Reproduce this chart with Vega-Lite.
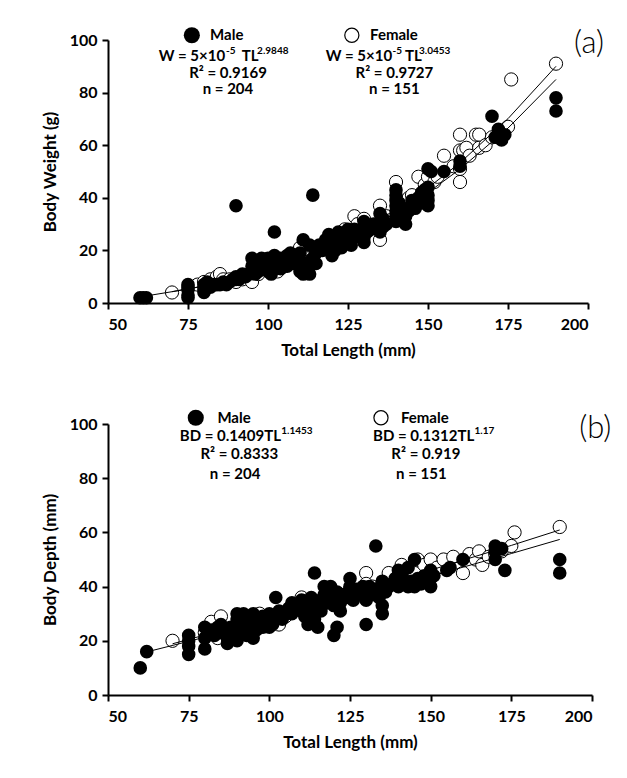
{
"$schema":"https://vega.github.io/schema/vega-lite/v6.json",
"background":"white",
"padding":{"left":41,"top":25,"right":4,"bottom":4},
"spacing":50,
"config":{
 "view":{"stroke":null},
 "font":"Lato",
 "axis":{"grid":false,"domainColor":"black","domainWidth":2,"tickColor":"black","tickWidth":2,"tickSize":6,"labelFont":"Lato","labelFontSize":16,"labelFontWeight":"bold","labelColor":"black","labelPadding":5,"titleFont":"Lato","titleFontSize":17,"titleFontWeight":"bold","titleColor":"black"},
 "axisX":{"titlePadding":10,"labelPadding":7},
 "axisY":{"titlePadding":10}
},
"datasets":{
 "a_m":[{"tl":60,"val":2},{"tl":61,"val":2},{"tl":62,"val":2},{"tl":75,"val":2},{"tl":75,"val":3},{"tl":75,"val":5},{"tl":75,"val":6},{"tl":75,"val":7},{"tl":80,"val":4},{"tl":80,"val":5},{"tl":80,"val":6},{"tl":80,"val":7},{"tl":81,"val":8},{"tl":82,"val":6},{"tl":83,"val":7},{"tl":84,"val":7},{"tl":85,"val":7},{"tl":86,"val":8},{"tl":87,"val":7},{"tl":88,"val":8},{"tl":89,"val":9},{"tl":90,"val":9},{"tl":90,"val":10},{"tl":91,"val":9},{"tl":92,"val":10},{"tl":92,"val":11},{"tl":93,"val":10},{"tl":94,"val":11},{"tl":90,"val":37},{"tl":95,"val":12},{"tl":95,"val":14},{"tl":95,"val":17},{"tl":96,"val":13},{"tl":96,"val":11},{"tl":96,"val":16},{"tl":97,"val":15},{"tl":97,"val":12},{"tl":98,"val":14},{"tl":98,"val":17},{"tl":99,"val":13},{"tl":99,"val":16},{"tl":100,"val":12},{"tl":100,"val":14},{"tl":100,"val":17},{"tl":101,"val":11},{"tl":101,"val":15},{"tl":102,"val":18},{"tl":102,"val":13},{"tl":103,"val":14},{"tl":103,"val":16},{"tl":104,"val":13},{"tl":104,"val":17},{"tl":105,"val":15},{"tl":106,"val":14},{"tl":106,"val":18},{"tl":107,"val":19},{"tl":107,"val":16},{"tl":108,"val":15},{"tl":108,"val":18},{"tl":109,"val":17},{"tl":110,"val":14},{"tl":110,"val":12},{"tl":110,"val":16},{"tl":110,"val":19},{"tl":111,"val":11},{"tl":111,"val":13},{"tl":112,"val":12},{"tl":112,"val":15},{"tl":113,"val":11},{"tl":113,"val":14},{"tl":114,"val":17},{"tl":115,"val":15},{"tl":115,"val":19},{"tl":102,"val":27},{"tl":114,"val":41},{"tl":111,"val":24},{"tl":113,"val":22},{"tl":116,"val":22},{"tl":117,"val":20},{"tl":118,"val":24},{"tl":118,"val":21},{"tl":119,"val":26},{"tl":120,"val":18},{"tl":120,"val":22},{"tl":120,"val":25},{"tl":121,"val":20},{"tl":122,"val":24},{"tl":122,"val":27},{"tl":123,"val":21},{"tl":123,"val":25},{"tl":124,"val":23},{"tl":125,"val":27},{"tl":125,"val":28},{"tl":126,"val":24},{"tl":126,"val":22},{"tl":127,"val":25},{"tl":127,"val":28},{"tl":128,"val":26},{"tl":129,"val":27},{"tl":130,"val":23},{"tl":130,"val":25},{"tl":130,"val":29},{"tl":130,"val":31},{"tl":131,"val":27},{"tl":132,"val":28},{"tl":133,"val":30},{"tl":134,"val":29},{"tl":135,"val":27},{"tl":135,"val":31},{"tl":135,"val":34},{"tl":136,"val":29},{"tl":136,"val":32},{"tl":137,"val":30},{"tl":140,"val":31},{"tl":140,"val":33},{"tl":140,"val":35},{"tl":140,"val":37},{"tl":140,"val":39},{"tl":140,"val":41},{"tl":140,"val":43},{"tl":141,"val":34},{"tl":141,"val":38},{"tl":142,"val":36},{"tl":143,"val":30},{"tl":143,"val":33},{"tl":144,"val":35},{"tl":145,"val":37},{"tl":145,"val":39},{"tl":146,"val":36},{"tl":147,"val":40},{"tl":148,"val":42},{"tl":148,"val":38},{"tl":149,"val":43},{"tl":150,"val":37},{"tl":150,"val":39},{"tl":150,"val":41},{"tl":150,"val":44},{"tl":150,"val":51},{"tl":151,"val":50},{"tl":155,"val":50},{"tl":160,"val":54},{"tl":160,"val":52},{"tl":170,"val":71},{"tl":171,"val":63},{"tl":172,"val":66},{"tl":173,"val":62},{"tl":174,"val":64},{"tl":190,"val":78},{"tl":190,"val":73}],
 "a_f":[{"tl":70,"val":4},{"tl":78,"val":7},{"tl":80,"val":8},{"tl":82,"val":9},{"tl":84,"val":10},{"tl":85,"val":11},{"tl":86,"val":9},{"tl":88,"val":9},{"tl":90,"val":8},{"tl":92,"val":9},{"tl":95,"val":8},{"tl":97,"val":11},{"tl":100,"val":13},{"tl":103,"val":12},{"tl":105,"val":14},{"tl":108,"val":18},{"tl":110,"val":21},{"tl":112,"val":17},{"tl":115,"val":20},{"tl":118,"val":22},{"tl":120,"val":24},{"tl":122,"val":26},{"tl":124,"val":28},{"tl":127,"val":33},{"tl":128,"val":30},{"tl":130,"val":32},{"tl":132,"val":29},{"tl":135,"val":37},{"tl":135,"val":24},{"tl":137,"val":33},{"tl":140,"val":46},{"tl":142,"val":38},{"tl":144,"val":40},{"tl":145,"val":41},{"tl":147,"val":48},{"tl":149,"val":45},{"tl":150,"val":48},{"tl":152,"val":46},{"tl":153,"val":48},{"tl":155,"val":56},{"tl":158,"val":52},{"tl":160,"val":64},{"tl":160,"val":58},{"tl":160,"val":51},{"tl":160,"val":46},{"tl":161,"val":58},{"tl":162,"val":59},{"tl":163,"val":56},{"tl":165,"val":64},{"tl":166,"val":64},{"tl":166,"val":59},{"tl":168,"val":60},{"tl":170,"val":63},{"tl":175,"val":67},{"tl":176,"val":85},{"tl":190,"val":91}],
 "a_fit":[{"sex":"Male","tl":62,"val":2.7},{"sex":"Male","tl":70,"val":4.3},{"sex":"Male","tl":80,"val":6.4},{"sex":"Male","tl":90,"val":9.1},{"sex":"Male","tl":100,"val":12.5},{"sex":"Male","tl":110,"val":16.6},{"sex":"Male","tl":125,"val":24.4},{"sex":"Male","tl":140,"val":34.2},{"sex":"Male","tl":150,"val":42.0},{"sex":"Male","tl":160,"val":50.9},{"sex":"Male","tl":175,"val":66.5},{"sex":"Male","tl":190,"val":85},{"sex":"Female","tl":70,"val":4.3},{"sex":"Female","tl":80,"val":6.5},{"sex":"Female","tl":90,"val":9.3},{"sex":"Female","tl":100,"val":12.7},{"sex":"Female","tl":110,"val":17.0},{"sex":"Female","tl":125,"val":25.1},{"sex":"Female","tl":140,"val":35.5},{"sex":"Female","tl":150,"val":43.8},{"sex":"Female","tl":160,"val":53.3},{"sex":"Female","tl":175,"val":70.1},{"sex":"Female","tl":190,"val":90}],
 "a_leg":[{"sex":"Male","tl":76.2,"val":101.8},{"sex":"Female","tl":126.2,"val":101.8}],
 "a_txt":[{"part":"label","tl":81.9,"val":101.8,"label":"Male"},{"part":"label","tl":131.9,"val":101.8,"label":"Female"},{"part":"base","tl":86.6,"val":93.9,"label":"W = 5×10"},{"part":"base","tl":138.8,"val":93.9,"label":"W = 5×10"},{"part":"sup","tl":86.9,"val":93.9,"label":"-5"},{"part":"sup","tl":138.9,"val":93.9,"label":"-5"},{"part":"mid","tl":91.8,"val":93.9,"label":"TL"},{"part":"mid","tl":142.8,"val":93.9,"label":"TL"},{"part":"sup","tl":96.6,"val":93.9,"label":"2.9848"},{"part":"sup","tl":147.2,"val":93.9,"label":"3.0453"},{"part":"center","tl":87.5,"val":87.6,"label":"R² = 0.9169"},{"part":"center","tl":139.5,"val":87.6,"label":"R² = 0.9727"},{"part":"center","tl":87.5,"val":81.4,"label":"n = 204"},{"part":"center","tl":139.5,"val":81.4,"label":"n = 151"},{"part":"tag","tl":200.3,"val":98.3,"label":"(a)"}],
 "b_m":[{"tl":60,"val":10},{"tl":62,"val":16},{"tl":75,"val":15},{"tl":75,"val":18},{"tl":75,"val":20},{"tl":75,"val":22},{"tl":80,"val":17},{"tl":80,"val":21},{"tl":80,"val":25},{"tl":81,"val":23},{"tl":82,"val":24},{"tl":83,"val":22},{"tl":84,"val":25},{"tl":85,"val":23},{"tl":85,"val":26},{"tl":86,"val":24},{"tl":87,"val":19},{"tl":87,"val":21},{"tl":88,"val":22},{"tl":88,"val":25},{"tl":89,"val":23},{"tl":90,"val":20},{"tl":90,"val":26},{"tl":90,"val":28},{"tl":90,"val":30},{"tl":91,"val":24},{"tl":92,"val":27},{"tl":92,"val":30},{"tl":93,"val":25},{"tl":93,"val":22},{"tl":94,"val":28},{"tl":95,"val":21},{"tl":95,"val":26},{"tl":95,"val":30},{"tl":96,"val":24},{"tl":96,"val":28},{"tl":97,"val":27},{"tl":98,"val":25},{"tl":98,"val":29},{"tl":99,"val":27},{"tl":100,"val":25},{"tl":100,"val":28},{"tl":100,"val":30},{"tl":101,"val":26},{"tl":102,"val":36},{"tl":102,"val":29},{"tl":103,"val":31},{"tl":104,"val":28},{"tl":105,"val":30},{"tl":106,"val":32},{"tl":107,"val":34},{"tl":107,"val":30},{"tl":108,"val":33},{"tl":109,"val":32},{"tl":110,"val":31},{"tl":110,"val":35},{"tl":111,"val":29},{"tl":111,"val":33},{"tl":112,"val":26},{"tl":112,"val":34},{"tl":113,"val":30},{"tl":113,"val":36},{"tl":114,"val":45},{"tl":114,"val":28},{"tl":115,"val":25},{"tl":115,"val":33},{"tl":116,"val":35},{"tl":116,"val":31},{"tl":117,"val":40},{"tl":117,"val":37},{"tl":118,"val":34},{"tl":119,"val":38},{"tl":119,"val":40},{"tl":120,"val":22},{"tl":120,"val":33},{"tl":120,"val":36},{"tl":121,"val":25},{"tl":121,"val":38},{"tl":122,"val":34},{"tl":122,"val":31},{"tl":123,"val":37},{"tl":124,"val":36},{"tl":125,"val":43},{"tl":125,"val":40},{"tl":125,"val":38},{"tl":126,"val":35},{"tl":127,"val":39},{"tl":128,"val":37},{"tl":129,"val":40},{"tl":130,"val":26},{"tl":130,"val":35},{"tl":130,"val":38},{"tl":131,"val":40},{"tl":132,"val":37},{"tl":133,"val":55},{"tl":133,"val":39},{"tl":134,"val":36},{"tl":135,"val":30},{"tl":135,"val":33},{"tl":135,"val":42},{"tl":136,"val":38},{"tl":137,"val":40},{"tl":138,"val":41},{"tl":139,"val":43},{"tl":140,"val":40},{"tl":140,"val":42},{"tl":140,"val":46},{"tl":141,"val":44},{"tl":142,"val":41},{"tl":143,"val":40},{"tl":143,"val":47},{"tl":144,"val":42},{"tl":145,"val":50},{"tl":145,"val":40},{"tl":146,"val":43},{"tl":147,"val":41},{"tl":148,"val":44},{"tl":149,"val":42},{"tl":150,"val":40},{"tl":150,"val":43},{"tl":150,"val":46},{"tl":151,"val":44},{"tl":155,"val":46},{"tl":156,"val":47},{"tl":160,"val":50},{"tl":170,"val":55},{"tl":170,"val":53},{"tl":170,"val":50},{"tl":172,"val":54},{"tl":173,"val":46},{"tl":190,"val":50},{"tl":190,"val":45}],
 "b_f":[{"tl":70,"val":20},{"tl":80,"val":23},{"tl":82,"val":27},{"tl":84,"val":21},{"tl":85,"val":29},{"tl":87,"val":24},{"tl":90,"val":22},{"tl":92,"val":29},{"tl":95,"val":27},{"tl":97,"val":30},{"tl":100,"val":27},{"tl":103,"val":26},{"tl":105,"val":29},{"tl":108,"val":33},{"tl":110,"val":36},{"tl":112,"val":35},{"tl":115,"val":34},{"tl":118,"val":36},{"tl":122,"val":37},{"tl":125,"val":39},{"tl":127,"val":38},{"tl":130,"val":45},{"tl":130,"val":41},{"tl":132,"val":40},{"tl":135,"val":41},{"tl":137,"val":45},{"tl":140,"val":44},{"tl":141,"val":48},{"tl":143,"val":44},{"tl":145,"val":45},{"tl":146,"val":50},{"tl":148,"val":48},{"tl":150,"val":50},{"tl":152,"val":47},{"tl":154,"val":50},{"tl":157,"val":51},{"tl":160,"val":45},{"tl":162,"val":52},{"tl":164,"val":50},{"tl":165,"val":53},{"tl":166,"val":48},{"tl":168,"val":51},{"tl":170,"val":52},{"tl":172,"val":53},{"tl":175,"val":55},{"tl":176,"val":60},{"tl":190,"val":62}],
 "b_fit":[{"sex":"Male","tl":62,"val":15.9},{"sex":"Male","tl":75,"val":19.8},{"sex":"Male","tl":100,"val":27.5},{"sex":"Male","tl":125,"val":35.5},{"sex":"Male","tl":150,"val":43.8},{"sex":"Male","tl":175,"val":52.2},{"sex":"Male","tl":190,"val":57.4},{"sex":"Female","tl":70,"val":18.9},{"sex":"Female","tl":75,"val":20.5},{"sex":"Female","tl":100,"val":28.7},{"sex":"Female","tl":125,"val":37.3},{"sex":"Female","tl":150,"val":46.1},{"sex":"Female","tl":175,"val":55.2},{"sex":"Female","tl":190,"val":60.9}],
 "b_leg":[{"sex":"Male","tl":77.2,"val":102.3},{"sex":"Female","tl":134.6,"val":102.3}],
 "b_txt":[{"part":"label","tl":83.9,"val":102.3,"label":"Male"},{"part":"label","tl":140.8,"val":102.3,"label":"Female"},{"part":"base","tl":103.6,"val":95.7,"label":"BD = 0.1409TL"},{"part":"base","tl":163.5,"val":95.7,"label":"BD = 0.1312TL"},{"part":"sup","tl":103.7,"val":95.7,"label":"1.1453"},{"part":"sup","tl":163.6,"val":95.7,"label":"1.17"},{"part":"center","tl":90.7,"val":88.8,"label":"R² = 0.8333"},{"part":"center","tl":148.5,"val":88.8,"label":"R² = 0.919"},{"part":"center","tl":89.4,"val":81.4,"label":"n = 204"},{"part":"center","tl":147.1,"val":81.4,"label":"n = 151"},{"part":"tag","tl":201,"val":98.2,"label":"(b)"}]
},
"vconcat":[
 {"width":480,"height":263,
  "encoding":{
   "x":{"field":"tl","type":"quantitative","scale":{"domain":[50,200],"nice":false,"zero":false},"axis":{"values":[50,75,100,125,150,175,200],"title":"Total Length (mm)"}},
   "y":{"field":"val","type":"quantitative","scale":{"domain":[0,100],"nice":false},"axis":{"values":[0,20,40,60,80,100],"title":"Body Weight (g)"}}
  },
  "layer":[
   {"data":{"name":"a_f"},"mark":{"type":"point","shape":"circle","filled":false,"fill":"white","fillOpacity":1,"stroke":"black","strokeWidth":1,"size":175,"opacity":1,"clip":false}},
   {"data":{"name":"a_m"},"mark":{"type":"circle","color":"black","size":185,"opacity":1}},
   {"data":{"name":"a_fit"},"mark":{"type":"line","color":"black","strokeWidth":1},"encoding":{"detail":{"field":"sex"}}},
   {"data":{"name":"a_leg"},"transform":[{"filter":"datum.sex == 'Male'"}],"mark":{"type":"circle","color":"black","size":260,"opacity":1,"clip":false}},
   {"data":{"name":"a_leg"},"transform":[{"filter":"datum.sex == 'Female'"}],"mark":{"type":"point","shape":"circle","filled":false,"fill":"white","stroke":"black","strokeWidth":1.2,"size":200,"opacity":1,"clip":false}},
   {"data":{"name":"a_txt"},"transform":[{"filter":"datum.part == 'label'"}],"mark":{"type":"text","align":"left","baseline":"middle","font":"Lato","fontSize":15,"fontWeight":"bold","color":"black","clip":false},"encoding":{"text":{"field":"label"}}},
   {"data":{"name":"a_txt"},"transform":[{"filter":"datum.part == 'base'"}],"mark":{"type":"text","align":"right","baseline":"middle","font":"Lato","fontSize":15,"fontWeight":"bold","color":"black"},"encoding":{"text":{"field":"label"}}},
   {"data":{"name":"a_txt"},"transform":[{"filter":"datum.part == 'mid'"}],"mark":{"type":"text","align":"left","baseline":"middle","font":"Lato","fontSize":15,"fontWeight":"bold","color":"black"},"encoding":{"text":{"field":"label"}}},
   {"data":{"name":"a_txt"},"transform":[{"filter":"datum.part == 'sup'"}],"mark":{"type":"text","align":"left","baseline":"middle","dy":-5,"font":"Lato","fontSize":10,"fontWeight":"bold","color":"black"},"encoding":{"text":{"field":"label"}}},
   {"data":{"name":"a_txt"},"transform":[{"filter":"datum.part == 'center'"}],"mark":{"type":"text","align":"center","baseline":"middle","font":"Lato","fontSize":15,"fontWeight":"bold","color":"black"},"encoding":{"text":{"field":"label"}}},
   {"data":{"name":"a_txt"},"transform":[{"filter":"datum.part == 'tag'"}],"mark":{"type":"text","align":"center","baseline":"middle","font":"Lato","fontSize":31,"fontWeight":300,"color":"black","clip":false},"encoding":{"text":{"field":"label"}}}
  ]
 },
 {"width":484,"height":271,
  "encoding":{
   "x":{"field":"tl","type":"quantitative","scale":{"domain":[50,200],"nice":false,"zero":false},"axis":{"values":[50,75,100,125,150,175,200],"title":"Total Length (mm)"}},
   "y":{"field":"val","type":"quantitative","scale":{"domain":[0,100],"nice":false},"axis":{"values":[0,20,40,60,80,100],"title":"Body Depth (mm)"}}
  },
  "layer":[
   {"data":{"name":"b_f"},"mark":{"type":"point","shape":"circle","filled":false,"fill":"white","fillOpacity":1,"stroke":"black","strokeWidth":1,"size":175,"opacity":1}},
   {"data":{"name":"b_m"},"mark":{"type":"circle","color":"black","size":185,"opacity":1}},
   {"data":{"name":"b_fit"},"mark":{"type":"line","color":"black","strokeWidth":1},"encoding":{"detail":{"field":"sex"}}},
   {"data":{"name":"b_leg"},"transform":[{"filter":"datum.sex == 'Male'"}],"mark":{"type":"circle","color":"black","size":260,"opacity":1,"clip":false}},
   {"data":{"name":"b_leg"},"transform":[{"filter":"datum.sex == 'Female'"}],"mark":{"type":"point","shape":"circle","filled":false,"fill":"white","stroke":"black","strokeWidth":1.2,"size":200,"opacity":1,"clip":false}},
   {"data":{"name":"b_txt"},"transform":[{"filter":"datum.part == 'label'"}],"mark":{"type":"text","align":"left","baseline":"middle","font":"Lato","fontSize":15,"fontWeight":"bold","color":"black"},"encoding":{"text":{"field":"label"}}},
   {"data":{"name":"b_txt"},"transform":[{"filter":"datum.part == 'base'"}],"mark":{"type":"text","align":"right","baseline":"middle","font":"Lato","fontSize":15,"fontWeight":"bold","color":"black"},"encoding":{"text":{"field":"label"}}},
   {"data":{"name":"b_txt"},"transform":[{"filter":"datum.part == 'sup'"}],"mark":{"type":"text","align":"left","baseline":"middle","dy":-5,"font":"Lato","fontSize":10,"fontWeight":"bold","color":"black"},"encoding":{"text":{"field":"label"}}},
   {"data":{"name":"b_txt"},"transform":[{"filter":"datum.part == 'center'"}],"mark":{"type":"text","align":"center","baseline":"middle","font":"Lato","fontSize":15,"fontWeight":"bold","color":"black"},"encoding":{"text":{"field":"label"}}},
   {"data":{"name":"b_txt"},"transform":[{"filter":"datum.part == 'tag'"}],"mark":{"type":"text","align":"center","baseline":"middle","font":"Lato","fontSize":31,"fontWeight":300,"color":"black"},"encoding":{"text":{"field":"label"}}}
  ]
 }
]
}
